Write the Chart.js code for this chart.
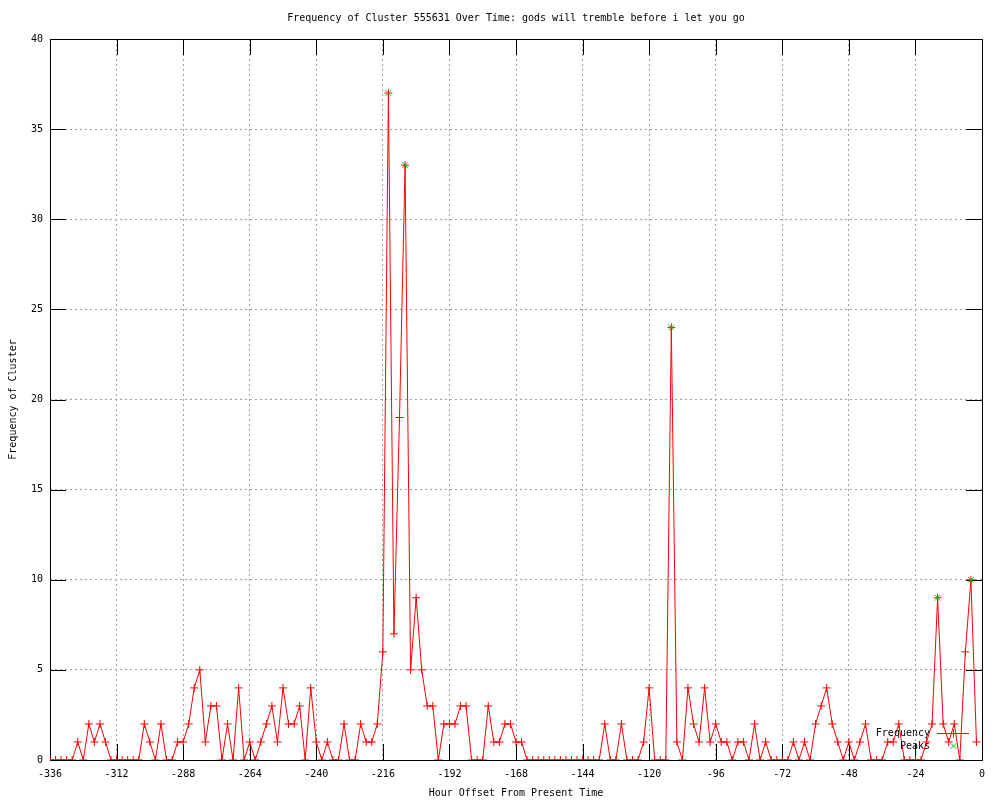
<!DOCTYPE html>
<html>
<head>
<meta charset="utf-8">
<script src="https://cdn.jsdelivr.net/npm/chart.js@4.4.1/dist/chart.umd.min.js"></script>
<style>
  html, body { margin: 0; padding: 0; background: #fff; }
  #chart { display: block; }
</style>
</head>
<body>
<canvas id="chart" width="1000" height="800"></canvas>
<script>
// heures relatives (pas de 2 h)
var hours = [
  -336, -334, -332, -330, -328, -326, -324, -322, -320, -318, -316, -314,
  -312, -310, -308, -306, -304, -302, -300, -298, -296, -294, -292, -290,
  -288, -286, -284, -282, -280, -278, -276, -274, -272, -270, -268, -266,
  -264, -262, -260, -258, -256, -254, -252, -250, -248, -246, -244, -242,
  -240, -238, -236, -234, -232, -230, -228, -226, -224, -222, -220, -218,
  -216, -214, -212, -210, -208, -206, -204, -202, -200, -198, -196, -194,
  -192, -190, -188, -186, -184, -182, -180, -178, -176, -174, -172, -170,
  -168, -166, -164, -162, -160, -158, -156, -154, -152, -150, -148, -146,
  -144, -142, -140, -138, -136, -134, -132, -130, -128, -126, -124, -122,
  -120, -118, -116, -114, -112, -110, -108, -106, -104, -102, -100, -98,
  -96, -94, -92, -90, -88, -86, -84, -82, -80, -78, -76, -74,
  -72, -70, -68, -66, -64, -62, -60, -58, -56, -54, -52, -50,
  -48, -46, -44, -42, -40, -38, -36, -34, -32, -30, -28, -26,
  -24, -22, -20, -18, -16, -14, -12, -10, -8, -6, -4, -2
];
var frequency = [
  0, 0, 0, 0, 0, 1, 0, 2, 1, 2, 1, 0,
  0, 0, 0, 0, 0, 2, 1, 0, 2, 0, 0, 1,
  1, 2, 4, 5, 1, 3, 3, 0, 2, 0, 4, 0,
  1, 0, 1, 2, 3, 1, 4, 2, 2, 3, 0, 4,
  1, 0, 1, 0, 0, 2, 0, 0, 2, 1, 1, 2,
  6, 37, 7, 19, 33, 5, 9, 5, 3, 3, 0, 2,
  2, 2, 3, 3, 0, 0, 0, 3, 1, 1, 2, 2,
  1, 1, 0, 0, 0, 0, 0, 0, 0, 0, 0, 0,
  0, 0, 0, 0, 2, 0, 0, 2, 0, 0, 0, 1,
  4, 0, 0, 0, 24, 1, 0, 4, 2, 1, 4, 1,
  2, 1, 1, 0, 1, 1, 0, 2, 0, 1, 0, 0,
  0, 0, 1, 0, 1, 0, 2, 3, 4, 2, 1, 0,
  1, 0, 1, 2, 0, 0, 0, 1, 1, 2, 0, 0,
  0, 0, 1, 2, 9, 2, 1, 2, 0, 6, 10, 1
];
var peakHours = [-214, -208, -112, -16, -4];
var peakValues = [37, 33, 24, 9, 10];

var xTicks = [-336, -312, -288, -264, -240, -216, -192, -168, -144, -120, -96, -72, -48, -24, 0];
var yTicks = [0, 5, 10, 15, 20, 25, 30, 35, 40];

var FONT = '"DejaVu Sans Mono", "Liberation Mono", monospace';

// cadre + graduations intérieures façon gnuplot
var framePlugin = {
  id: 'frame',
  beforeDatasetsDraw: function (chart) {
    var ctx = chart.ctx, a = chart.chartArea;
    var xs = chart.scales.x, ys = chart.scales.y;
    var tl = 16;
    ctx.save();
    ctx.strokeStyle = '#000';
    ctx.lineWidth = 1;
    ctx.beginPath();
    xTicks.forEach(function (v) {
      var px = Math.round(xs.getPixelForValue(v)) + 0.5;
      ctx.moveTo(px, a.bottom); ctx.lineTo(px, a.bottom - tl);
      ctx.moveTo(px, a.top); ctx.lineTo(px, a.top + tl);
    });
    yTicks.forEach(function (v) {
      var py = Math.round(ys.getPixelForValue(v)) + 0.5;
      ctx.moveTo(a.left, py); ctx.lineTo(a.left + tl, py);
      ctx.moveTo(a.right, py); ctx.lineTo(a.right - tl, py);
    });
    ctx.stroke();
    ctx.strokeRect(Math.round(a.left) + 0.5, Math.round(a.top) + 0.5,
      Math.round(a.right - a.left), Math.round(a.bottom - a.top));
    ctx.restore();
  },
  afterDatasetsDraw: function (chart) {
    // légende en bas à droite, dans la zone du graphe
    var ctx = chart.ctx, a = chart.chartArea;
    var ds = chart.data.datasets;
    var textRight = a.right - 52;
    var sx0 = a.right - 45, sx1 = a.right - 13, sxm = Math.round((sx0 + sx1) / 2) + 0.5;
    var y0 = a.bottom - 27, y1 = a.bottom - 14;
    ctx.save();
    ctx.font = '10px ' + FONT;
    ctx.fillStyle = '#000';
    ctx.textAlign = 'right';
    ctx.textBaseline = 'middle';
    ctx.fillText(ds[0].label, textRight, y0);
    ctx.fillText(ds[1].label, textRight, y1);
    ctx.strokeStyle = ds[0].borderColor;
    ctx.fillStyle = ds[0].borderColor;
    ctx.lineWidth = 1;
    ctx.beginPath();
    ctx.moveTo(sx0, y0 + 0.5); ctx.lineTo(sx1, y0 + 0.5);
    ctx.moveTo(sxm, y0 + 0.5 - 4); ctx.lineTo(sxm, y0 + 0.5 + 4);
    ctx.stroke();
    ctx.strokeStyle = ds[1].borderColor;
    ctx.fillStyle = ds[1].borderColor;
    Chart.helpers.drawPoint(ctx, { pointStyle: 'crossRot', radius: 4, borderWidth: 1, rotation: 0 }, sxm, y1);
    ctx.restore();
  }
};

var freqPoints = hours.map(function (h, i) { return { x: h, y: frequency[i] }; });
var peakPoints = peakHours.map(function (h, i) { return { x: h, y: peakValues[i] }; });

var ctx = document.getElementById('chart');
var myChart = new Chart(ctx, {
  type: 'line',
  data: {
    datasets: [{
      label: 'Frequency',
      data: freqPoints,
      borderColor: '#ff0000',
      backgroundColor: '#ff0000',
      borderWidth: 1,
      tension: 0,
      pointStyle: 'cross',
      pointRadius: 4,
      pointBorderWidth: 1,
      pointBorderColor: '#ff0000',
      order: 2
    }, {
      label: 'Peaks',
      data: peakPoints,
      showLine: false,
      borderColor: '#00c000',
      backgroundColor: '#00c000',
      pointStyle: 'crossRot',
      pointRadius: 4,
      pointBorderWidth: 1,
      pointBorderColor: '#00c000',
      order: 1
    }]
  },
  options: {
    responsive: false,
    animation: false,
    devicePixelRatio: 1,
    layout: { padding: { left: 0, right: 18, top: 0, bottom: 0 } },
    plugins: {
      legend: { display: false },
      tooltip: { enabled: false },
      title: { display: false }
    },
    scales: {
      x: {
        type: 'linear',
        min: -336,
        max: 0,
        afterFit: function (s) { s.height = 40; },
        afterBuildTicks: function (s) { s.ticks = xTicks.map(function (v) { return { value: v }; }); },
        ticks: {
          color: '#000',
          font: { family: FONT, size: 10 },
          padding: 8,
          maxRotation: 0,
          autoSkip: false
        },
        grid: { color: '#a0a0a0', drawTicks: false, lineWidth: 1 },
        border: { display: false, dash: [2, 3] },
        title: {
          display: true,
          text: 'Hour Offset From Present Time',
          color: '#000',
          font: { family: FONT, size: 10 },
          padding: { top: 0, bottom: 1 }
        }
      },
      // axe du haut : ne sert qu'à centrer le titre sur la zone du graphe
      top: {
        type: 'linear',
        position: 'top',
        min: -336,
        max: 0,
        afterFit: function (s) { s.height = 39; },
        ticks: { display: false },
        grid: { display: false, drawTicks: false },
        border: { display: false },
        title: {
          display: true,
          text: 'Frequency of Cluster 555631 Over Time: gods will tremble before i let you go',
          color: '#000',
          font: { family: FONT, size: 10 },
          padding: { top: 12, bottom: 0 }
        }
      },
      y: {
        min: 0,
        max: 40,
        afterFit: function (s) { s.width = 50; },
        afterBuildTicks: function (s) { s.ticks = yTicks.map(function (v) { return { value: v }; }); },
        ticks: {
          color: '#000',
          font: { family: FONT, size: 10 },
          padding: 7
        },
        grid: { color: '#a0a0a0', drawTicks: false, lineWidth: 1 },
        border: { display: false, dash: [2, 3] },
        title: {
          display: true,
          text: 'Frequency of Cluster',
          color: '#000',
          font: { family: FONT, size: 10 },
          padding: { top: 7, bottom: 0 }
        }
      }
    }
  },
  plugins: [framePlugin]
});
</script>
</body>
</html>
